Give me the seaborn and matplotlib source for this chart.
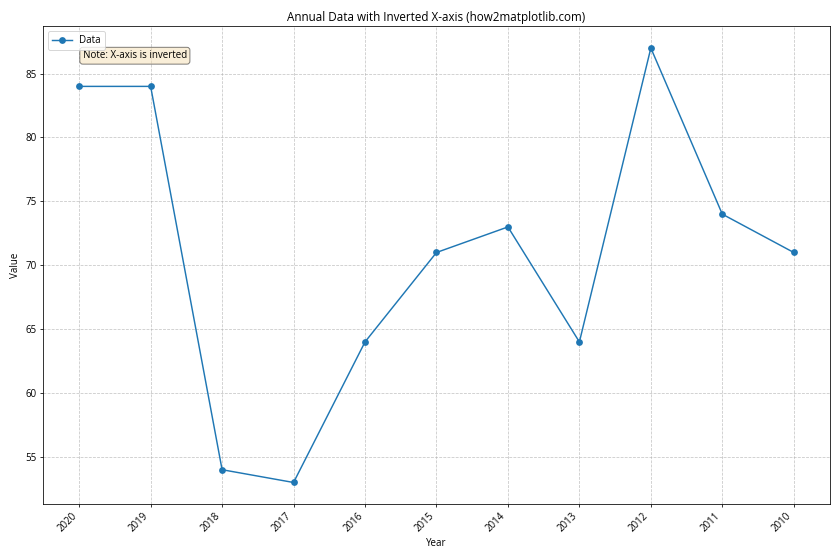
import matplotlib
matplotlib.use("Agg")
import matplotlib.pyplot as plt
import seaborn as sns
import pandas as pd

years = [2010, 2011, 2012, 2013, 2014, 2015, 2016, 2017, 2018, 2019, 2020]
values = [71, 74, 87, 64, 73, 71, 64, 53, 54, 84, 84]

plt.rcParams['font.family'] = ['Open Sans', 'DejaVu Sans']
plt.rcParams['font.size'] = 10

df = pd.DataFrame({"Year": years, "Value": values})

fig, ax = plt.subplots(figsize=(12, 8), dpi=70)
sns.lineplot(data=df, x="Year", y="Value", marker="o", markersize=7,
             markeredgewidth=0, color="#1f77b4", label="Data", ax=ax)
ax.invert_xaxis()
ax.set_xticks(years)
ax.set_xticklabels([str(y) for y in years], rotation=45, ha="right")
ax.set_title("Annual Data with Inverted X-axis (how2matplotlib.com)")
ax.set_xlabel("Year")
ax.set_ylabel("Value")
ax.grid(True, linestyle="--", alpha=0.7)
ax.legend(loc="upper left")
ax.text(0.05, 0.95, "Note: X-axis is inverted", transform=ax.transAxes,
        va="top", bbox=dict(boxstyle="round", facecolor="wheat",
                            edgecolor="black", alpha=0.5))
plt.tight_layout()
plt.savefig("out.png")
